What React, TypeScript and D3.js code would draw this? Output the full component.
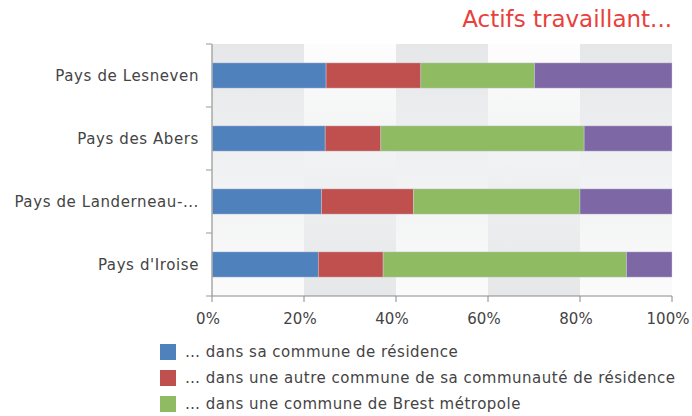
import React from 'react';
import * as d3 from 'd3';

const categories = ['Pays de Lesneven', 'Pays des Abers', 'Pays de Landerneau-...', "Pays d'Iroise"];
const seriesNames = [
  '… dans sa commune de résidence',
  '… dans une autre commune de sa communauté de résidence',
  '… dans une commune de Brest métropole',
];
const seriesColors = ['#4f81bd', '#c0504d', '#8fbb62', '#7d67a5'];
const communeResidence = [24.8, 24.6, 23.8, 23.1];
const autreCommune = [20.6, 12.1, 20.0, 14.1];
const brestMetropole = [24.7, 44.2, 36.2, 52.9];
const ailleurs = [29.9, 19.1, 20.0, 9.9];
const xTicks = [0, 20, 40, 60, 80, 100];
const title = 'Actifs travaillant...';

const W = 692;
const H = 416;
const margin = { top: 44, left: 212 };
const font = '"DejaVu Sans", sans-serif';

export default function App() {
  const innerW = 460;
  const innerH = 252;
  const x = d3.scaleLinear().domain([0, 100]).range([0, innerW]);
  const y = d3.scaleBand<string>().domain(categories).range([0, innerH]).paddingInner(0.6).paddingOuter(0.3);
  const band = innerH / categories.length;

  const rows = categories.map((c, i) => ({
    cat: c,
    v0: communeResidence[i], v1: autreCommune[i], v2: brestMetropole[i], v3: ailleurs[i],
  }));
  const stack = d3.stack<any>().keys(['v0', 'v1', 'v2', 'v3'])(rows);

  const cols = d3.range(5);

  return (
    <svg width={W} height={H} style={{ position: 'absolute', left: 0, top: 0, background: '#fff' }}>
      <defs>
        <linearGradient id="gA" x1="0" y1="0" x2="0" y2="1">
          <stop offset="0" stopColor="#e6e7e9" />
          <stop offset="0.5" stopColor="#f0f1f2" />
          <stop offset="1" stopColor="#fbfbfb" />
        </linearGradient>
        <linearGradient id="gB" x1="0" y1="0" x2="0" y2="1">
          <stop offset="0" stopColor="#fdfdfd" />
          <stop offset="0.5" stopColor="#f0f1f2" />
          <stop offset="1" stopColor="#e6e7e9" />
        </linearGradient>
      </defs>
      <text x={672} y={27} textAnchor="end" fontFamily={font} fontSize={23} fill="#e8413c">{title}</text>
      <g transform={`translate(${margin.left},${margin.top})`}>
        {cols.map(k => (
          <rect key={k} x={x(k * 20)} y={0} width={x(20)} height={innerH} fill={k % 2 === 0 ? 'url(#gA)' : 'url(#gB)'} />
        ))}
        {stack.map((s, si) => (
          <g key={si}>
            {s.map((d, di) => (
              <rect key={di} x={x(d[0])} y={y(categories[di])!} width={x(d[1]) - x(d[0])} height={y.bandwidth()}
                fill={seriesColors[si]} stroke="rgba(210,210,225,0.7)" strokeWidth={0.6} />
            ))}
          </g>
        ))}
        <line x1={0} x2={0} y1={0} y2={innerH} stroke="#a9a9a9" strokeWidth={1.5} />
        {d3.range(categories.length + 1).map(i => (
          <line key={i} x1={-6} x2={0} y1={i * band} y2={i * band} stroke="#a9a9a9" strokeWidth={1.2} />
        ))}
        {categories.map(c => (
          <text key={c} x={-13} y={y(c)! + y.bandwidth() / 2} dy="0.35em" textAnchor="end" fontFamily={font} fontSize={15} fill="#444" letterSpacing={0.6}>{c}</text>
        ))}
        <line x1={0} x2={innerW} y1={innerH} y2={innerH} stroke="#8a8a8a" strokeWidth={1} />
        {xTicks.map(t => (
          <g key={t} transform={`translate(${x(t)},${innerH})`}>
            <line y1={0} y2={6} stroke="#8a8a8a" />
            <text x={-4} y={28} textAnchor="middle" fontFamily={font} fontSize={15} fill="#444">{t}%</text>
          </g>
        ))}
      </g>
      <g transform="translate(160,344)">
        {seriesNames.map((n, i) => (
          <g key={n} transform={`translate(0,${i * 26})`}>
            <rect width={16} height={16} fill={seriesColors[i]} />
            <text x={25} y={8} dy="0.35em" fontFamily={font} fontSize={15} fill="#444" letterSpacing={0.5}>{n}</text>
          </g>
        ))}
      </g>
    </svg>
  );
}
